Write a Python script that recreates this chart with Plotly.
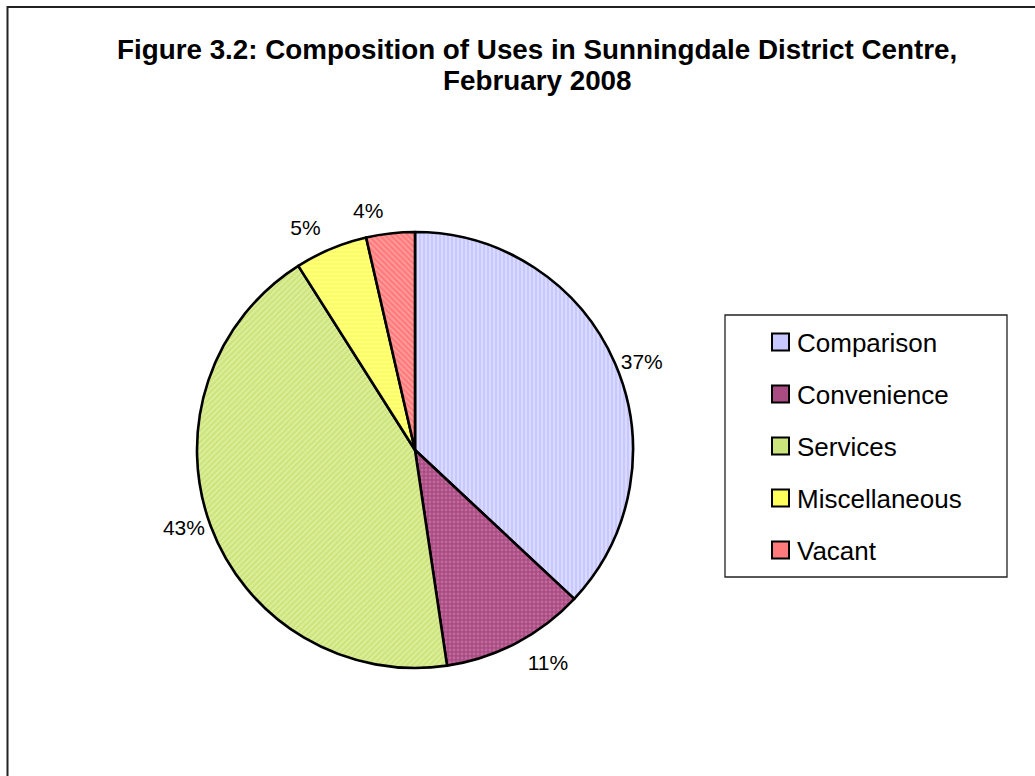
import plotly.graph_objects as go

W, H = 1035, 776

categories = ["Comparison", "Convenience", "Services", "Miscellaneous", "Vacant"]
shares = [37.0, 10.7, 43.4, 5.4, 3.6]
bg_colors = ["#C8C8FF", "#A84C82", "#CCE47C", "#FFFF5C", "#FF7A7A"]
fg_colors = ["#E4E4FF", "#C872A6", "#E4F2A8", "#FFFF9C", "#FFA8A8"]
patterns = ["|", ".", "/", "-", "\\"]
title_lines = ["Figure 3.2: Composition of Uses in Sunningdale District Centre,", "February 2008"]

def px(x):
    return x / W

def py(y):
    return 1 - y / H

FONT = "Liberation Sans, Arial, sans-serif"

# pie geometry (screen pixels)
cx, cy, r = 415, 450, 218

def dom(rad):
    return dict(x=[px(cx - rad), px(cx + rad)], y=[py(cy + rad), py(cy - rad)])

common = dict(
    labels=categories,
    values=shares,
    sort=False,
    direction="clockwise",
    rotation=0,
    texttemplate="%{percent:.0%}",
    textfont=dict(family=FONT, size=21, color="black"),
    showlegend=False,
)

def positions(show):
    return ["outside" if s else "none" for s in show]

# main pie: carries the side labels
fig = go.Figure(go.Pie(
    **common,
    domain=dom(r),
    textposition=positions([True, False, True, False, False]),
    marker=dict(
        colors=bg_colors,
        line=dict(color="black", width=2.6),
        pattern=dict(shape=patterns, fillmode="overlay", fgcolor=fg_colors,
                     fgopacity=0.8, size=4, solidity=0.4),
    ),
    hoverinfo="label+percent",
))
# transparent overlay pies carrying the remaining labels a little further out
for show in ([False, True, False, True, False], [False, False, False, False, True]):
    fig.add_trace(go.Pie(
        **common,
        domain=dom(r + 12),
        textposition=positions(show),
        marker=dict(colors=["rgba(0,0,0,0)"] * len(categories), line=dict(width=0)),
        hoverinfo="skip",
    ))

shapes = [
    # outer chart frame
    dict(type="rect", xref="paper", yref="paper", x0=px(7.5), y0=-0.05, x1=1.05, y1=py(7),
         line=dict(color="#222222", width=2), fillcolor="rgba(0,0,0,0)", layer="below"),
    # legend box
    dict(type="rect", xref="paper", yref="paper", x0=px(725), y0=py(577), x1=px(1007), y1=py(315),
         line=dict(color="#222222", width=1.3), fillcolor="white"),
]
annotations = []
for i, (cat, col) in enumerate(zip(categories, bg_colors)):
    yc = 342 + 52 * i
    shapes.append(dict(type="rect", xref="paper", yref="paper",
                       x0=px(772), x1=px(789), y0=py(yc + 8.5), y1=py(yc - 8.5),
                       fillcolor=col, line=dict(color="black", width=2)))
    annotations.append(dict(x=px(795), y=py(yc + 1), xref="paper", yref="paper",
                            text=cat, showarrow=False, xanchor="left", yanchor="middle",
                            font=dict(family=FONT, size=26, color="black")))

for i, line in enumerate(title_lines):
    annotations.append(dict(x=px(537), y=py(50 + 30.5 * i), xref="paper", yref="paper",
                            text="<b>%s</b>" % line, showarrow=False,
                            xanchor="center", yanchor="middle",
                            font=dict(family=FONT, size=27.8, color="black")))

fig.update_layout(
    width=W, height=H,
    margin=dict(l=0, r=0, t=0, b=0),
    paper_bgcolor="white",
    plot_bgcolor="white",
    shapes=shapes,
    annotations=annotations,
)

fig.write_html("out.html", config={"displayModeBar": False},
               post_script="document.body.style.margin='0';")
